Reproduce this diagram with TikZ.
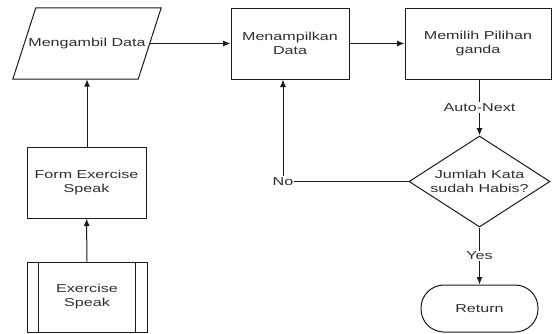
\documentclass[tikz,border=0pt]{standalone}
\usepackage{fontspec}
\setmainfont{Liberation Sans}[FakeStretch=1.4]
\usetikzlibrary{shapes.geometric,arrows.meta,calc}
\definecolor{txtgray}{HTML}{2E2E2E}
\definecolor{linegray}{HTML}{1A1A1A}
\begin{document}
\begin{tikzpicture}[x=1pt,y=-1pt,
  every node/.style={font=\fontsize{11.5}{14}\selectfont, text=txtgray, align=center},
  shapebase/.style={draw=linegray, line width=1pt, inner sep=0pt},
  procbox/.style={shapebase, rectangle},
  iobox/.style={rectangle, inner sep=0pt, minimum width=125pt, minimum height=71pt},
  decbox/.style={shapebase, diamond, aspect=1.55, minimum width=141pt, minimum height=91pt},
  termbox/.style={shapebase, rectangle, rounded corners=23pt, minimum width=117pt, minimum height=47pt},
  lbl/.style={fill=white, inner sep=1pt},
  conn/.style={draw=linegray, line width=1pt, -{Latex[length=7.5pt,width=6pt]}},
  plain/.style={draw=linegray, line width=1pt}
]
\useasboundingbox (0,0) rectangle (553,333);

\node[iobox] (par) at (87,43.5) {Mengambil Data};
\draw[plain, line join=miter] ($(par.north west)+(11.5,0)$) -- ($(par.north east)+(11.5,0)$)
  -- ($(par.south east)+(-11.5,0)$) -- ($(par.south west)+(-11.5,0)$) -- cycle;
\node[procbox, minimum width=118pt, minimum height=71pt] (men) at (290,43.5) {Menampilkan\\Data};
\node[procbox, minimum width=146pt, minimum height=71pt] (mem) at (478,43.5) {Memilih Pilihan\\ganda};
\node[decbox] (dia) at (479.5,181.5) {Jumlah Kata\\sudah Habis?};
\node[termbox] (ret) at (479.5,308.5) {Return};
\node[procbox, minimum width=119pt, minimum height=71pt] (form) at (86.5,182.5) {Form Exercise\\Speak};
\node[procbox, minimum width=120pt, minimum height=70pt] (ex) at (87,297) {Exercise\\Speak};
\draw[plain] ($(ex.north west)+(12,0)$) -- ($(ex.south west)+(12,0)$);
\draw[plain] ($(ex.north east)+(-12,0)$) -- ($(ex.south east)+(-12,0)$);

\draw[conn] (ex) -- (form);
\draw[conn] (form.north -| par) -- (par.south);
\draw[conn] (par.east) -- (men);
\draw[conn] (men) -- (mem);
\draw[conn] (mem.south -| dia) -- node[lbl] {Auto-Next} (dia.north);
\draw[conn] (dia.south) -- node[lbl] {Yes} (ret.north);
\coordinate (nocorner) at (283,181.5);
\draw[conn] (dia.west) -- (nocorner) -- (nocorner |- men.south);
\node[lbl] (nolbl) at (nocorner) {No};
\end{tikzpicture}
\end{document}
